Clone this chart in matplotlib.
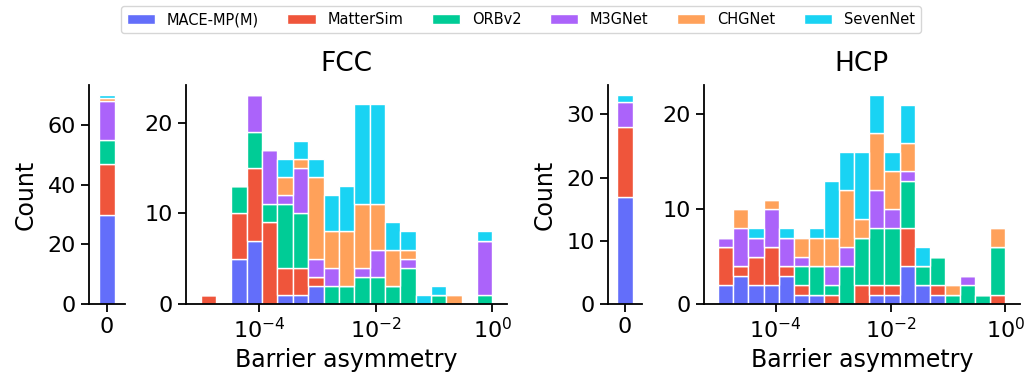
import numpy as np
import matplotlib
matplotlib.use("Agg")
import matplotlib.pyplot as plt
from matplotlib.patches import Patch

models = ["MACE-MP(M)", "MatterSim", "ORBv2", "M3GNet", "CHGNet", "SevenNet"]
colors = ["#636EFA", "#EF553B", "#00CC96", "#AB63FA", "#FFA15A", "#19D3F3"]

# log10 bin edges of the asymmetry histograms
log_edge_min, log_edge_max, n_bins = -5.0, 0.0, 19

# counts of exactly-zero asymmetry
fcc_zero = [30, 17, 8, 13, 1, 1]
hcp_zero = [17, 11, 0, 4, 0, 1]

# histogram counts per bin (FCC)
fcc_mace     = [0,0,5,7,0,1,1,2,0,0,0,0,0,0,0,0,0,0,0]
fcc_mattersim= [1,0,5,8,9,3,3,1,0,0,0,0,0,0,0,0,0,0,0]
fcc_orbv2    = [0,0,3,4,2,7,6,0,2,2,3,3,2,4,0,1,0,0,1]
fcc_m3gnet   = [0,0,0,4,6,1,5,2,2,0,1,3,0,1,0,0,0,0,6]
fcc_chgnet   = [0,0,0,0,0,2,1,9,4,6,7,5,4,1,0,0,1,0,0]
fcc_sevennet = [0,0,0,0,0,2,2,2,4,5,11,11,3,2,1,1,0,0,1]

# histogram counts per bin (HCP)
hcp_mace     = [2,3,2,2,3,1,1,0,0,0,1,1,4,2,1,0,0,0,0]
hcp_mattersim= [4,1,3,4,1,1,0,1,0,2,1,1,4,0,1,0,0,0,1]
hcp_orbv2    = [0,0,0,0,0,2,3,1,4,5,6,6,5,2,3,1,2,1,5]
hcp_m3gnet   = [1,4,2,4,3,1,0,2,2,0,4,2,1,0,0,0,1,0,0]
hcp_chgnet   = [0,2,0,1,0,2,3,3,6,2,6,4,3,0,0,1,0,0,2]
hcp_sevennet = [0,0,1,0,1,0,1,6,4,7,4,2,4,2,0,0,0,0,0]

fcc_hist = [fcc_mace, fcc_mattersim, fcc_orbv2, fcc_m3gnet, fcc_chgnet, fcc_sevennet]
hcp_hist = [hcp_mace, hcp_mattersim, hcp_orbv2, hcp_m3gnet, hcp_chgnet, hcp_sevennet]

edges = np.logspace(log_edge_min, log_edge_max, n_bins + 1)

TICK = 16
LABEL = 17
TITLE = 19

fig = plt.figure(figsize=(10.29, 3.81), dpi=100)

def style(ax):
    for s in ["top", "right"]:
        ax.spines[s].set_visible(False)
    for s in ["left", "bottom"]:
        ax.spines[s].set_linewidth(1.3)
    ax.tick_params(labelsize=TICK, width=1.3, length=6)

def zero_panel(ax, counts, yticks):
    bottom = 0
    for c, col in zip(counts, colors):
        if c > 0:
            ax.bar([0], [c], bottom=bottom, width=0.8, color=col,
                   edgecolor="white", linewidth=1)
        bottom += c
    ax.set_xlim(-0.9, 0.9)
    ax.set_ylim(0, bottom * 1.05)
    ax.set_xticks([0])
    ax.set_yticks(yticks)
    ax.set_ylabel("Count", fontsize=LABEL, labelpad=7)
    style(ax)

def hist_panel(ax, hist, title, yticks):
    bottom = np.zeros(n_bins)
    for counts, col in zip(hist, colors):
        counts = np.array(counts, dtype=float)
        ax.bar(edges[:-1], counts, width=np.diff(edges), bottom=bottom,
               align="edge", color=col, edgecolor="white", linewidth=1)
        bottom += counts
    ax.set_xscale("log")
    ax.set_xlim(10 ** (log_edge_min - 0.25), 10 ** (log_edge_max + 0.25))
    ax.set_ylim(0, bottom.max() * 1.05)
    ax.set_xticks([1e-4, 1e-2, 1e0])
    ax.xaxis.set_minor_locator(matplotlib.ticker.NullLocator())
    ax.set_yticks(yticks)
    ax.set_xlabel("Barrier asymmetry", fontsize=LABEL)
    ax.set_title(title, fontsize=TITLE, pad=10)
    style(ax)

bot, h = 0.202, 0.575
ax0 = fig.add_axes([0.0865, bot, 0.035, h])
ax1 = fig.add_axes([0.1808, bot, 0.312, h])
ax2 = fig.add_axes([0.5909, bot, 0.033, h])
ax3 = fig.add_axes([0.684, bot, 0.307, h])

zero_panel(ax0, fcc_zero, [0, 20, 40, 60])
hist_panel(ax1, fcc_hist, "FCC", [0, 10, 20])
zero_panel(ax2, hcp_zero, [0, 10, 20, 30])
hist_panel(ax3, hcp_hist, "HCP", [0, 10, 20])

handles = [Patch(facecolor=c, edgecolor="white", label=m) for m, c in zip(models, colors)]
fig.legend(handles=handles, loc="upper center", bbox_to_anchor=(0.506, 0.995),
           ncol=6, fontsize=10.5, frameon=True, fancybox=True,
           handlelength=1.95, handleheight=0.6, handletextpad=0.8,
           columnspacing=1.95, borderpad=0.4, borderaxespad=0.3)

fig.savefig("out.png", dpi=100)
